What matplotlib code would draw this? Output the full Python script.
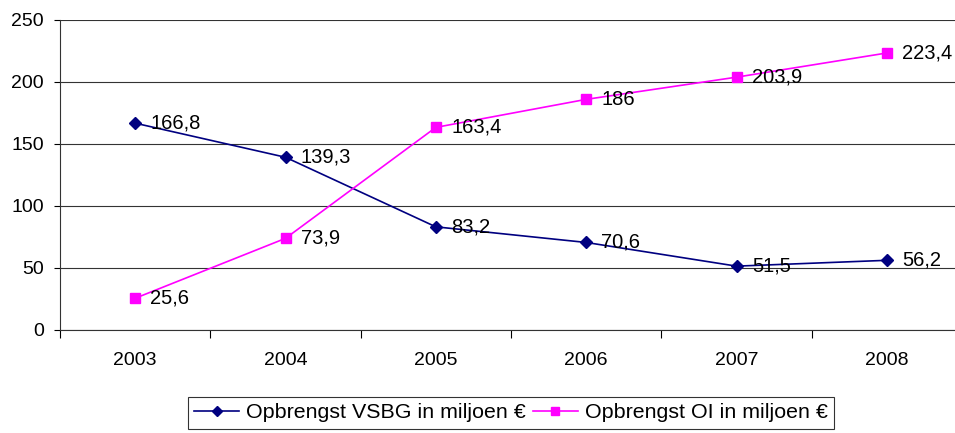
import matplotlib
matplotlib.use("Agg")
import matplotlib.pyplot as plt
import numpy as np

years = ["2003", "2004", "2005", "2006", "2007", "2008"]
vsbg = [166.8, 139.3, 83.2, 70.6, 51.5, 56.2]
oi = [25.6, 73.9, 163.4, 186, 203.9, 223.4]

plt.rcParams['font.family'] = ['Liberation Sans', 'DejaVu Sans']

fig = plt.figure(figsize=(9.55, 4.33), dpi=100)
ax = fig.add_axes([60/955, 103/433, 902/955, 310/433])

x = np.arange(len(years)) + 0.5
ax.plot(x, vsbg, color="#000080", marker="D", markersize=6, lw=1.2,
        label="Opbrengst VSBG in miljoen €")
ax.plot(x, oi, color="#FF00FF", marker="s", markersize=7, lw=1.2,
        label="Opbrengst OI in miljoen €")

for xi, v in zip(x, vsbg):
    ax.annotate(f"{v:g}".replace(".", ","), (xi, v), xytext=(11, 0),
                textcoords="offset points", va="center", ha="left", fontsize=14.5)
for xi, v in zip(x, oi):
    ax.annotate(f"{v:g}".replace(".", ","), (xi, v), xytext=(11, 0),
                textcoords="offset points", va="center", ha="left", fontsize=14.5)

ax.set_xlim(0, len(years))
ax.set_ylim(0, 250)
ax.set_yticks(range(0, 251, 50))
ax.set_xticks(range(len(years) + 1))
ax.set_xticklabels([])
ax.set_xticks(x, minor=True)
ax.set_xticklabels(years, minor=True)
ax.tick_params(axis="x", which="minor", length=0, pad=16, labelsize=14)
ax.tick_params(axis="x", which="major", length=6, width=0.8, direction="out")
ax.tick_params(axis="y", length=4.5, width=0.8, labelsize=14, pad=7)

ax.grid(axis="y", color="#333333", lw=0.8)
ax.set_axisbelow(True)
for s in ["top", "right"]:
    ax.spines[s].set_visible(False)
ax.spines["left"].set_color("#333333")
ax.spines["bottom"].set_color("#333333")

leg = fig.legend(loc="center", bbox_to_anchor=(511/955, 1 - 413/433), ncol=2,
                 fontsize=15.4, frameon=True, fancybox=False, handlelength=2.1,
                 columnspacing=0.33, handletextpad=0.33, borderpad=0.3,
                 borderaxespad=0, edgecolor="black", markerscale=0.9)
leg.get_frame().set_linewidth(0.8)

fig.savefig("out.png", dpi=100)
